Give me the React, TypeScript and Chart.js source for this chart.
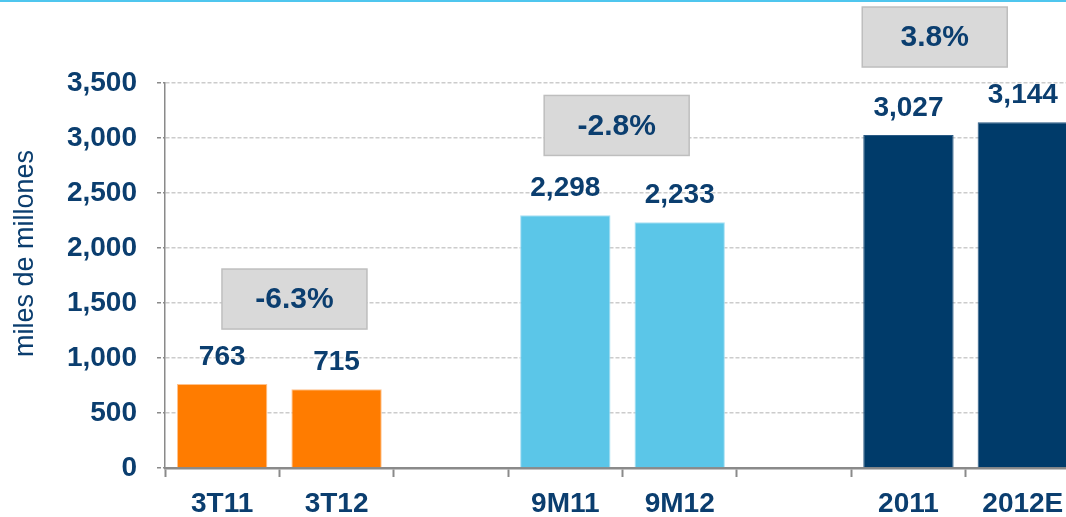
import React, { useEffect, useRef } from "react";
import { Chart, registerables } from "chart.js";

Chart.register(...registerables);

const categories = ["3T11", "3T12", "", "9M11", "9M12", "", "2011", "2012E"];
const values = [763, 715, null, 2298, 2233, null, 3027, 3144];
const barColors = ["#FF7C00", "#FF7C00", "#FFFFFF", "#5BC6E8", "#5BC6E8", "#FFFFFF", "#003B6A", "#003B6A"];
const barEdges = ["#FFC28C", "#FFC28C", "#FFFFFF", "#A9E0F3", "#A9E0F3", "#FFFFFF", "#2A5A84", "#2A5A84"];
const yTicks = [0, 500, 1000, 1500, 2000, 2500, 3000, 3500];
const yTitle = "miles de millones";
const growthLabels = ["-6.3%", "-2.8%", "3.8%"];
const growthX = [0.632, 3.449, 6.23];
const growthY = [1536, 3114, 3918];

const FONT = '"Liberation Sans", Arial, Helvetica, sans-serif';
const NAVY = "#0B3E6F";

const fmt = (v: number) => v.toLocaleString("en-US");

const overlayPlugin = {
  id: "overlay",
  afterDatasetsDraw(chart: any) {
    const ctx = chart.ctx;
    const meta = chart.getDatasetMeta(0);
    const xs = chart.scales.x;
    const ys = chart.scales.y;
    ctx.save();
    ctx.font = `bold 28px ${FONT}`;
    ctx.fillStyle = NAVY;
    ctx.textAlign = "center";
    ctx.textBaseline = "middle";
    meta.data.forEach((bar: any, i: number) => {
      const v = values[i];
      if (v == null) return;
      ctx.fillText(fmt(v), bar.x, bar.y - 27);
    });
    const bw = 145;
    const bh = 60;
    growthLabels.forEach((t, i) => {
      const cx = xs.getPixelForValue(growthX[i]);
      const cy = ys.getPixelForValue(growthY[i]);
      ctx.fillStyle = "#D9D9D9";
      ctx.fillRect(cx - bw / 2, cy - bh / 2, bw, bh);
      ctx.strokeStyle = "#BEBEBE";
      ctx.lineWidth = 1.5;
      ctx.strokeRect(cx - bw / 2, cy - bh / 2, bw, bh);
      ctx.fillStyle = NAVY;
      ctx.font = `bold 30px ${FONT}`;
      ctx.fillText(t, cx, cy + 1);
    });
    ctx.font = `27px ${FONT}`;
    ctx.fillStyle = NAVY;
    ctx.translate(26, (chart.chartArea.top + chart.chartArea.bottom) / 2 - 22);
    ctx.rotate(-Math.PI / 2);
    ctx.fillText(yTitle, 0, 0);
    ctx.restore();
    ctx.save();
    ctx.fillStyle = "#4FC6EE";
    ctx.fillRect(0, 0, chart.width, 2);
    ctx.restore();
  },
};

export default function App() {
  const ref = useRef<HTMLCanvasElement | null>(null);
  useEffect(() => {
    if (!ref.current) return;
    const chart = new Chart(ref.current, {
      type: "bar",
      data: {
        labels: categories,
        datasets: [
          {
            data: values as any,
            backgroundColor: barColors,
            borderColor: barEdges,
            borderWidth: 1,
            barPercentage: 0.79,
            categoryPercentage: 1,
          },
        ],
      },
      options: {
        animation: false,
        responsive: false,
        devicePixelRatio: 1,
        layout: { padding: { top: 83, left: 0, right: 0, bottom: 0 } },
        plugins: {
          legend: { display: false },
          tooltip: { enabled: false },
          title: { display: false },
        },
        scales: {
          x: {
            offset: true,
            afterFit: (s: any) => {
              s.height = 49;
            },
            grid: {
              display: true,
              offset: true,
              drawOnChartArea: false,
              drawTicks: true,
              tickLength: 9,
              tickColor: "#8A8A8A",
              tickWidth: 2,
            },
            border: { display: true, color: "#8A8A8A", width: 2.5 },
            ticks: {
              color: NAVY,
              font: { family: FONT, size: 28, weight: "bold" },
              padding: 10,
              maxRotation: 0,
              autoSkip: false,
            },
          },
          y: {
            min: 0,
            max: 3500,
            afterFit: (s: any) => {
              s.width = 165;
            },
            afterBuildTicks: (s: any) => {
              s.ticks = yTicks.map((v) => ({ value: v }));
            },
            grid: {
              color: (c: any) => (c.tick && c.tick.value === 0 ? "rgba(0,0,0,0)" : "#CCCCCC"),
              lineWidth: 1.5,
              borderDash: [7, 4],
              drawTicks: true,
              tickLength: 8,
              tickColor: "#8A8A8A",
              tickBorderDash: [4, 2],
              tickWidth: 1.5,
            },
            border: { display: true, color: "#8A8A8A", width: 1.5, dash: [4, 2] },
            ticks: {
              color: NAVY,
              font: { family: FONT, size: 28, weight: "bold" },
              padding: 20,
              callback: (v: any) => fmt(Number(v)),
            },
          },
        },
      },
      plugins: [overlayPlugin],
    } as any);
    return () => chart.destroy();
  }, []);
  return (
    <div
      style={{
        position: "fixed",
        left: 0,
        top: 0,
        width: 1066,
        height: 517,
        overflow: "hidden",
        background: "#FFFFFF",
      }}
    >
      <canvas ref={ref} width={1080} height={517} style={{ display: "block" }} />
    </div>
  );
}
